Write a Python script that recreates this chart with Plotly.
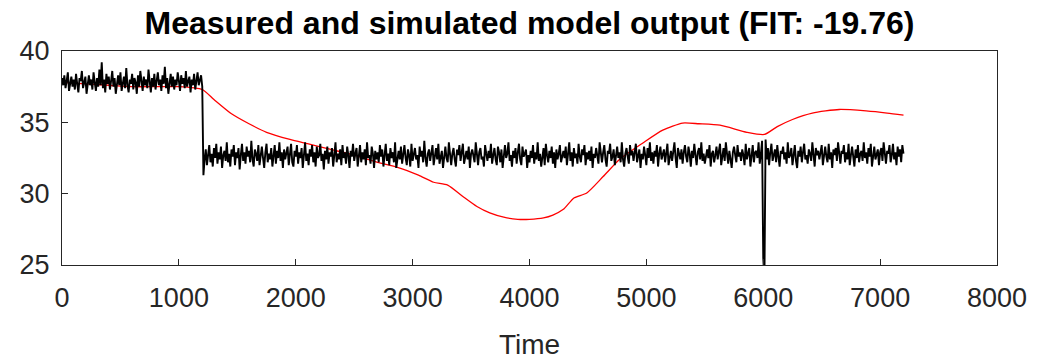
import plotly.graph_objects as go

# Measured output, sampled every 10 time units from 0 to 7200
measured = [
    38.1, 37.6, 38.3, 37.4, 37.9, 38.5, 37.2, 37.8, 38.2, 37.5,
    38.0, 37.3, 38.4, 37.7, 37.1, 38.1, 37.9, 38.6, 37.4, 37.8,
    38.2, 37.0, 37.7, 38.3, 37.6, 38.0, 37.3, 38.5, 37.8, 37.2,
    38.1, 37.5, 38.7, 37.6, 39.2, 37.4, 38.0, 37.1, 38.4, 37.7,
    38.2, 37.3, 37.9, 38.6, 37.5, 38.1, 37.0, 37.8, 38.3, 37.6,
    38.5, 37.2, 37.9, 38.2, 37.4, 38.8, 37.6, 37.1, 38.0, 37.7,
    38.4, 37.3, 38.1, 37.8, 37.0, 38.3, 37.5, 38.6, 37.9, 37.2,
    38.2, 37.6, 38.0, 37.4, 38.7, 37.8, 37.1, 38.1, 37.5, 38.4,
    37.3, 37.9, 38.5, 37.6, 38.0, 37.2, 38.3, 37.7, 38.9, 37.4,
    38.1, 37.0, 37.8, 38.4, 37.5, 38.2, 37.3, 38.0, 37.6, 38.5,
    37.9, 37.2, 38.3, 37.7, 38.1, 37.4, 38.6, 37.5, 37.9, 38.2,
    37.1, 38.0, 37.6, 38.4, 37.3, 37.8, 38.5, 37.6, 38.1, 38.3,
    37.5,
    31.3, 32.4, 33.1, 32.0, 32.9, 33.4, 32.2, 32.8, 31.9, 33.2,
    32.5, 33.5, 32.1, 32.9, 32.4, 33.3, 31.8, 32.7, 33.0, 32.3,
    33.6, 32.2, 32.8, 31.9, 33.1, 32.6, 33.4, 32.0, 32.9, 32.5,
    33.2, 31.7, 32.7, 33.5, 32.3, 32.9, 32.1, 33.3, 32.6, 33.0,
    32.2, 33.7, 32.4, 31.9, 33.1, 32.8, 32.3, 33.4, 32.0, 32.7,
    33.3, 32.5, 31.8, 32.9, 33.5, 32.2, 32.8, 32.4, 33.2, 31.9,
    32.6, 33.4, 32.1, 33.0, 32.5, 33.6, 32.3, 32.9, 31.8, 33.1,
    32.4, 32.8, 33.3, 32.0, 32.7, 33.5, 32.2, 31.9, 33.0, 32.6,
    33.4, 32.1, 32.9, 32.5, 33.2, 31.8, 32.7, 33.6, 32.3, 32.8,
    32.0, 33.1, 32.6, 33.4, 32.2, 32.9, 31.9, 33.3, 32.5, 32.7,
    33.5, 32.3, 32.8, 31.7, 33.0, 32.4, 33.3, 32.1, 32.9, 32.6,
    33.2, 31.9, 32.7, 33.6, 32.2, 32.8, 32.4, 33.1, 32.0, 33.4,
    32.5, 32.9, 32.1, 33.3, 32.7, 31.8, 33.0, 32.6, 33.5, 32.3,
    32.8, 33.2, 31.9, 32.6, 33.4, 32.2, 32.9, 32.4, 33.1, 32.0,
    33.6, 32.5, 32.7, 32.1, 33.3, 32.8, 31.8, 33.0, 32.4, 32.9,
    32.2, 33.4, 32.6, 33.1, 31.9, 32.7, 33.5, 32.3, 32.8, 32.0,
    33.2, 32.5, 32.9, 32.2, 33.6, 31.8, 32.6, 33.0, 32.4, 33.3,
    32.1, 32.8, 33.4, 32.5, 32.0, 33.1, 32.7, 31.9, 33.5, 32.3,
    32.9, 33.2, 32.4, 32.7, 31.8, 33.3, 32.6, 33.0, 32.2, 33.7,
    32.5, 31.9, 32.8, 33.1, 32.3, 32.9, 33.4, 32.0, 32.6, 33.2,
    32.4, 33.5, 32.1, 32.7, 33.0, 31.8, 32.9, 33.3, 32.5, 32.2,
    33.6, 32.6, 32.0, 32.8, 33.2, 32.4, 31.9, 33.1, 32.7, 33.4,
    32.3, 32.9, 33.5, 32.1, 32.6, 33.0, 32.4, 33.3, 31.8, 32.8,
    33.1, 32.5, 32.2, 33.6, 32.7, 32.0, 32.9, 33.2, 32.4, 32.6,
    31.9, 33.4, 32.8, 32.3, 33.0, 32.5, 33.5, 32.1, 32.7, 33.2,
    32.4, 32.0, 33.3, 32.9, 32.2, 33.1, 31.8, 32.6, 33.4, 32.5,
    32.8, 33.6, 32.3, 32.7, 31.9, 33.0, 32.5, 33.2, 32.1, 32.9,
    33.5, 32.4, 32.0, 33.3, 32.6, 32.8, 33.1, 31.8, 32.7, 32.2,
    33.0, 32.5, 33.4, 32.1, 32.9, 32.4, 33.6, 32.3, 32.8, 31.9,
    32.6, 33.2, 32.0, 33.5, 32.7, 32.2, 33.0, 32.5, 33.3, 32.1,
    32.9, 31.8, 33.1, 32.4, 32.8, 33.4, 32.2, 32.6, 33.0, 32.5,
    33.3, 32.0, 32.7, 33.6, 32.3, 32.9, 31.9, 33.2, 32.5, 32.8,
    32.1, 33.5, 32.6, 32.2, 33.1, 32.7, 33.4, 32.0, 32.9, 32.4,
    33.0, 32.3, 33.3, 31.8, 32.8, 32.5, 33.2, 32.6, 32.1, 33.6,
    32.7, 32.2, 32.9, 33.4, 32.4, 31.9, 33.0, 32.8, 33.5, 32.3,
    32.6, 33.1, 32.0, 32.7, 33.3, 32.5, 32.9, 32.2, 33.6, 32.4,
    31.9, 32.8, 33.2, 32.6, 32.1, 33.4, 32.7, 33.0, 32.3, 32.9,
    33.5, 32.2, 32.6, 33.1, 31.8, 32.8, 32.4, 33.3, 32.7, 32.0,
    33.2, 32.5, 33.6, 32.3, 32.9, 32.1, 33.0, 32.6, 33.4, 31.9,
    32.8, 33.3, 32.4, 32.7, 33.1, 32.2, 32.9, 33.5, 32.0, 32.6,
    33.0, 32.3, 32.8, 33.6, 32.5, 31.8, 33.2, 32.7, 32.4, 33.1,
    32.1, 32.9, 33.4, 32.6, 32.2, 33.3, 32.8, 31.9, 33.0, 32.5,
    33.5, 32.7, 32.0, 32.9, 33.2, 32.4, 33.6, 32.3, 32.8, 32.1,
    32.6, 33.1, 32.5, 33.4, 31.9, 32.8, 33.0, 32.2, 32.7, 33.3,
    32.4, 32.9, 33.5, 32.0, 32.6, 33.2, 32.3, 33.6, 32.8, 32.1,
    33.0, 32.5, 31.8, 32.9, 33.3, 32.7, 32.2, 33.4, 32.6, 32.9,
    32.3, 33.1, 32.7, 32.0, 33.5, 32.4, 32.8, 33.2, 31.9, 32.6,
    33.4, 32.2, 32.9, 33.0, 32.5, 33.6, 32.1, 32.8, 33.7, 25.5,
    24.0, 33.8, 32.4, 33.2, 32.0, 32.9, 33.5, 32.3, 32.7, 33.1,
    32.2, 33.4, 32.6, 31.9, 33.0, 32.8, 33.3, 32.4, 32.9, 32.1,
    33.6, 32.5, 32.7, 33.2, 32.0, 32.8, 33.4, 32.3, 31.8, 33.0,
    32.6, 33.3, 32.2, 32.9, 33.5, 32.4, 32.7, 32.1, 33.1, 32.8,
    32.3, 33.6, 32.5, 31.9, 33.2, 32.7, 33.0, 32.4, 32.9, 33.4,
    32.0, 32.8, 33.3, 32.6, 32.2, 33.5, 32.4, 32.9, 31.8, 33.1,
    32.7, 33.2, 32.3, 33.6, 32.5, 32.1, 33.0, 32.8, 33.4, 32.2,
    32.9, 32.4, 33.5, 32.0, 32.7, 33.3, 32.6, 31.9, 33.1, 32.5,
    33.4, 32.2, 32.8, 33.0, 32.3, 33.6, 32.5, 32.9, 32.1, 33.2,
    32.6, 33.5, 31.9, 32.8, 33.3, 32.4, 32.7, 33.1, 32.0, 32.9,
    33.2, 32.3, 33.6, 32.5, 32.1, 33.0, 32.8, 33.4, 32.2, 32.7,
    33.5, 32.4, 32.9, 32.0, 33.3, 32.6, 33.1, 32.2, 33.4, 32.8,
]
sample_step = 10
measured_time = [i * sample_step for i in range(len(measured))]

# Simulated model output (read at selected times)
sim_time = [0, 200, 400, 600, 800, 1000, 1200, 1300, 1450, 1600, 1750, 1950,
            2100, 2300, 2500, 2700, 2870, 3050, 3180, 3300, 3430, 3550, 3660,
            3780, 3900, 4000, 4120, 4200, 4290, 4380, 4490, 4630, 4770, 4970,
            5140, 5310, 5450, 5630, 5860, 6010, 6120, 6250, 6420, 6650, 6880,
            7060, 7200]
simulated = [37.8, 37.7, 37.6, 37.5, 37.5, 37.5, 37.3, 36.6, 35.6, 34.9, 34.3,
             33.8, 33.5, 33.1, 32.7, 32.2, 31.85, 31.3, 30.8, 30.6, 29.8, 29.1,
             28.65, 28.35, 28.2, 28.2, 28.3, 28.5, 28.9, 29.7, 30.05, 31.2,
             32.4, 33.55, 34.45, 34.95, 34.9, 34.8, 34.3, 34.15, 34.7, 35.2,
             35.65, 35.9, 35.8, 35.65, 35.5]

x_ticks = [0, 1000, 2000, 3000, 4000, 5000, 6000, 7000, 8000]
y_ticks = [25, 30, 35, 40]

axis_color = "#262626"
font_family = "Liberation Sans, Arial, sans-serif"

fig = go.Figure()
fig.add_trace(go.Scatter(x=sim_time, y=simulated, mode="lines",
                         line=dict(color="#ff0000", width=1.3, shape="spline", smoothing=0.6),
                         showlegend=False))
fig.add_trace(go.Scatter(x=measured_time, y=measured, mode="lines",
                         line=dict(color="#000000", width=1.9),
                         showlegend=False))

fig.update_layout(
    width=1041, height=360,
    margin=dict(l=62, r=44, t=51, b=95, autoexpand=False),
    paper_bgcolor="white", plot_bgcolor="white",
    font=dict(family=font_family, color=axis_color),
    title=dict(text="<b>Measured and simulated model output (FIT: -19.76)</b>",
               x=(62 + 997) / 2 / 1041, xanchor="center", y=1 - 23 / 360, yanchor="middle",
               font=dict(size=32, color="#000000", family=font_family),
               automargin=False),
)
fig.update_xaxes(range=[0, 8000], tickvals=x_ticks, ticktext=[str(v) for v in x_ticks],
                 showgrid=False, zeroline=False, showline=True, mirror=True,
                 linecolor=axis_color, linewidth=1, ticks="inside", ticklen=6,
                 tickcolor=axis_color, tickfont=dict(size=27, color=axis_color),
                 ticklabelstandoff=9, automargin=False,
                 title=dict(text="Time", font=dict(size=28, color=axis_color), standoff=24))
fig.update_yaxes(range=[25, 40], tickvals=y_ticks, ticktext=[str(v) for v in y_ticks],
                 showgrid=False, zeroline=False, showline=True, mirror=True,
                 linecolor=axis_color, linewidth=1, ticks="inside", ticklen=6,
                 tickcolor=axis_color, tickfont=dict(size=27, color=axis_color),
                 ticklabelstandoff=6, automargin=False)

fig.write_html("out.html")
